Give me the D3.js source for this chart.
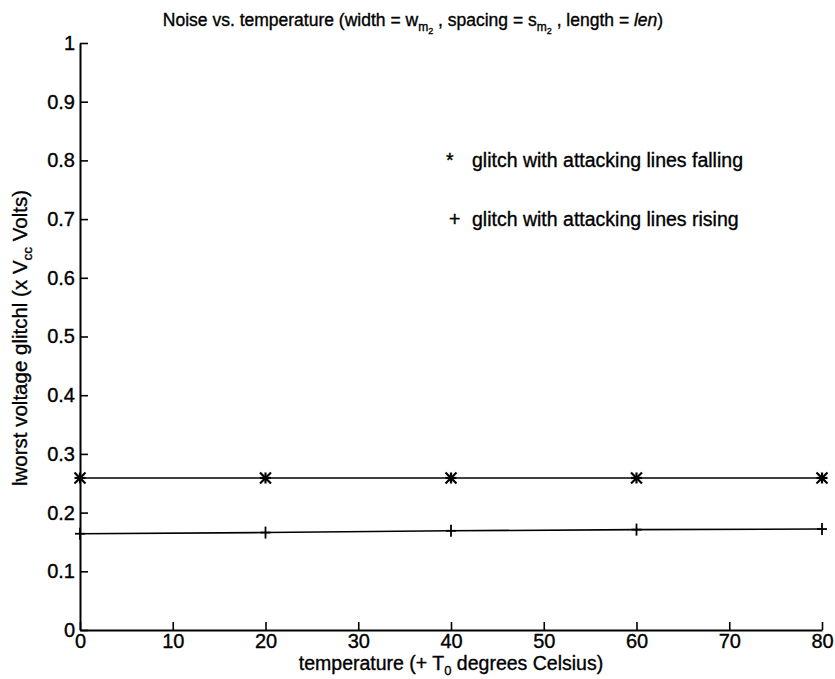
<!DOCTYPE html>
<html>
<head>
<meta charset="utf-8">
<script src="https://cdnjs.cloudflare.com/ajax/libs/d3/7.8.5/d3.min.js"></script>
<style>
  body { margin: 0; background: #fff; }
  text { font-family: "Liberation Sans", Arial, sans-serif; fill: #000; stroke: #000; stroke-width: 0.35px; }
</style>
</head>
<body>
<div id="chart"></div>
<script>
// temperatures (+ T0) and worst glitch (x Vcc)
let temps = [0, 20, 40, 60, 80];
let falling = [0.259, 0.259, 0.259, 0.259, 0.259];
let rising = [0.164, 0.166, 0.169, 0.171, 0.172];
let xTicks = [0, 10, 20, 30, 40, 50, 60, 70, 80];
let yTicks = [0, 0.1, 0.2, 0.3, 0.4, 0.5, 0.6, 0.7, 0.8, 0.9, 1];

let width = 835, height = 679;
let margin = {left: 80, right: 13, top: 43, bottom: 49};

let svg = d3.select("#chart").append("svg")
  .attr("width", width)
  .attr("height", height);

let x = d3.scaleLinear().domain([0, 80]).range([margin.left, width - margin.right]);
let y = d3.scaleLinear().domain([0, 1]).range([height - margin.bottom, margin.top]);

// axes, ticks pointing inward like matlab
let xAxis = d3.axisBottom(x).tickValues(xTicks).tickFormat(d3.format("d"))
  .tickSizeInner(-8).tickSizeOuter(0).tickPadding(12);
let yAxis = d3.axisLeft(y).tickValues(yTicks).tickFormat(function(d) { return d === 0 || d === 1 ? d : d3.format(".1f")(d); })
  .tickSizeInner(-8).tickSizeOuter(0).tickPadding(6);

let gx = svg.append("g").attr("transform", "translate(0," + y(0) + ")").call(xAxis);
let gy = svg.append("g").attr("transform", "translate(" + x(0) + ",0)").call(yAxis);

[gx, gy].forEach(function(g) {
  g.select(".domain").attr("stroke", "#000").attr("stroke-width", 2);
  g.selectAll(".tick line").attr("stroke", "#000").attr("stroke-width", 1.6);
  g.selectAll(".tick text").style("font-size", "20px").attr("fill", "#000");
});
gx.selectAll(".tick text").attr("dy", "0.3em");
gy.selectAll(".tick text").attr("dx", "1px");

// lines
let line = d3.line()
  .x(function(d, i) { return x(temps[i]); })
  .y(function(d) { return y(d); });

[falling, rising].forEach(function(s) {
  svg.append("path")
    .datum(s)
    .attr("d", line)
    .attr("fill", "none")
    .attr("stroke", "#000")
    .attr("stroke-width", 1.6);
});

// asterisk markers
let star = svg.append("g").selectAll("g")
  .data(falling)
  .enter().append("g")
  .attr("transform", function(d, i) { return "translate(" + x(temps[i]) + "," + y(d) + ")"; });
let r = 5.5;
[[-r, 0, r, 0], [0, -r, 0, r], [-r, -r, r, r], [-r, r, r, -r]].forEach(function(l) {
  star.append("line")
    .attr("x1", l[0]).attr("y1", l[1]).attr("x2", l[2]).attr("y2", l[3])
    .attr("stroke", "#000").attr("stroke-width", 2.2);
});

// plus markers
let plus = svg.append("g").selectAll("g")
  .data(rising)
  .enter().append("g")
  .attr("transform", function(d, i) { return "translate(" + x(temps[i]) + "," + y(d) + ")"; });
[[-5, 0, 5, 0], [0, -6, 0, 6]].forEach(function(l) {
  plus.append("line")
    .attr("x1", l[0]).attr("y1", l[1]).attr("x2", l[2]).attr("y2", l[3])
    .attr("stroke", "#000").attr("stroke-width", 1.8);
});

// title
let title = svg.append("text")
  .attr("x", 413).attr("y", 26)
  .attr("text-anchor", "middle")
  .style("font-size", "17.5px");
title.append("tspan").text("Noise vs. temperature (width = w");
title.append("tspan").attr("dy", 5).style("font-size", "12px").text("m");
title.append("tspan").attr("dy", 3).style("font-size", "9px").text("2");
title.append("tspan").attr("dy", -8).text(" , spacing = s");
title.append("tspan").attr("dy", 5).style("font-size", "12px").text("m");
title.append("tspan").attr("dy", 3).style("font-size", "9px").text("2");
title.append("tspan").attr("dy", -8).text(" , length = ");
title.append("tspan").style("font-style", "italic").text("len");
title.append("tspan").text(")");

// axis labels
let xl = svg.append("text")
  .attr("x", 451).attr("y", 670)
  .attr("text-anchor", "middle")
  .style("font-size", "19.5px");
xl.append("tspan").text("temperature (+ T");
xl.append("tspan").attr("dy", 5).style("font-size", "13px").text("0");
xl.append("tspan").attr("dy", -5).text(" degrees Celsius)");

let yl = svg.append("text")
  .attr("transform", "translate(27," + 338 + ") rotate(-90)")
  .attr("text-anchor", "middle")
  .style("font-size", "20.5px");
yl.append("tspan").text("lworst voltage glitchl (x V");
yl.append("tspan").attr("dy", 5).style("font-size", "13.5px").text("cc");
yl.append("tspan").attr("dy", -5).text("  Volts)");

// legend
let legend = [
  {sym: "*", label: "glitch with attacking lines falling", yv: 0.8},
  {sym: "+", label: "glitch with attacking lines rising", yv: 0.7}
];
legend.forEach(function(d) {
  svg.append("text")
    .attr("x", d.sym === "*" ? 446 : 449).attr("y", y(d.yv) + 7)
    .style("font-size", "19.5px")
    .text(d.sym);
  svg.append("text")
    .attr("x", 472).attr("y", y(d.yv) + 7)
    .style("font-size", "19.5px")
    .text(d.label);
});
</script>
</body>
</html>
